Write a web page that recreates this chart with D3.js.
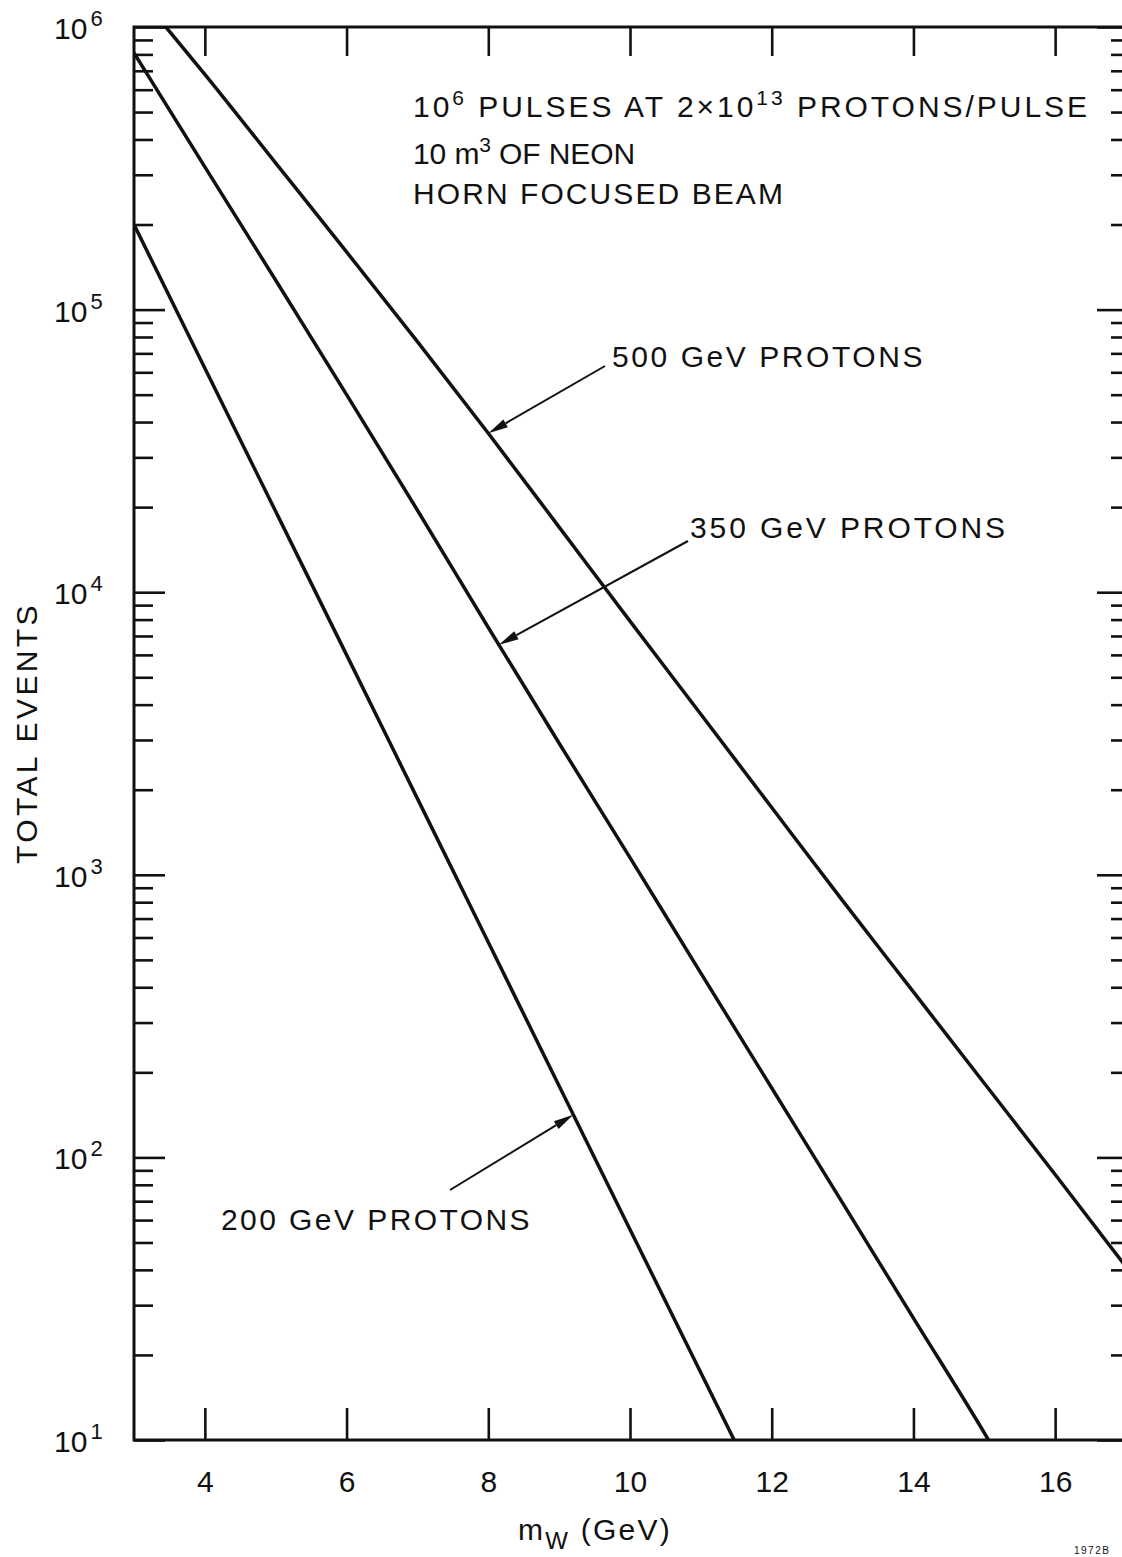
<!DOCTYPE html>
<html>
<head>
<meta charset="utf-8">
<script src="https://cdn.jsdelivr.net/npm/d3@7"></script>
<style>
  html, body { margin: 0; padding: 0; background: #fff; }
  svg { display: block; }
  text { font-family: "Liberation Sans", Arial, sans-serif; fill: #111; }
</style>
</head>
<body>
<svg id="chart" width="1122" height="1557"></svg>
<script>
// ---- data -------------------------------------------------------------
const massTicks = [4, 6, 8, 10, 12, 14, 16];
const decadeValues = [10, 100, 1000, 1e4, 1e5, 1e6];
const decadeExponents = ["1", "2", "3", "4", "5", "6"];
const minorMultiples = [2, 3, 4, 5, 6, 7, 8, 9];

// total W events vs W mass (GeV) for three proton beam energies
const mass500   = [3.45, 4, 5, 6, 7, 8, 9, 10, 11, 12, 13, 14, 15, 16, 17];
const events500 = [1.0e6, 6.8e5, 3.3e5, 1.6e5, 7.7e4, 3.65e4, 1.7e4, 7.9e3, 3.7e3, 1.73e3, 810, 385, 183, 87, 41];

const mass350   = [3, 4, 5, 6, 7, 8, 9, 10, 11, 12, 13, 14, 15, 15.06];
const events350 = [8.1e5, 3.2e5, 1.27e5, 5.0e4, 1.95e4, 7.5e3, 2.92e3, 1.15e3, 449, 176, 69, 27, 10.6, 10];

const mass200   = [3, 4, 5, 6, 7, 8, 9, 10, 11, 11.47];
const events200 = [2.0e5, 6.2e4, 1.93e4, 6.0e3, 1.86e3, 577, 179, 55.6, 17.3, 10];

const seriesNames = ["500 GeV PROTONS", "350 GeV PROTONS", "200 GeV PROTONS"];
const arrowMass = [8, 8.15, 9.2];

// ---- scales -----------------------------------------------------------
const svg = d3.select("#chart");
const plot = { left: 134, right: 1126, top: 27, bottom: 1440 };
const x = d3.scaleLinear().domain([3, 17]).range([plot.left, plot.right]);
const y = d3.scaleLog().domain([10, 1e6]).range([plot.bottom, plot.top]);

const minorValues = [];
decadeValues.slice(0, -1).forEach(d => minorMultiples.forEach(m => minorValues.push(d * m)));

const INK = "#111";

// ---- helpers ----------------------------------------------------------
function styleAxis(g, width) {
  g.select(".domain").remove();
  g.selectAll(".tick line").attr("stroke", INK).attr("stroke-width", width);
}

// spread letters so a line of text spans a given width
function fitWidth(sel, target) {
  const node = sel.node();
  const n = node.getNumberOfChars();
  let ls = 0;
  for (let i = 0; i < 3; i++) {
    sel.attr("letter-spacing", ls);
    const w = node.getBBox().width;
    ls += (target - w) / Math.max(1, n - 1);
  }
  sel.attr("letter-spacing", ls);
}

// ---- ticks ------------------------------------------------------------
svg.append("g").attr("transform", `translate(0,${plot.bottom})`)
  .call(d3.axisBottom(x).tickValues(massTicks).tickSize(-32).tickPadding(31)
        .tickFormat(d3.format("d")))
  .call(g => styleAxis(g, 2.6))
  .call(g => g.selectAll(".tick text").attr("font-size", 30).attr("fill", INK)
        .attr("font-family", '"Liberation Sans", Arial, sans-serif'));

svg.append("g").attr("transform", `translate(0,${plot.top})`)
  .call(d3.axisTop(x).tickValues(massTicks).tickSize(-29).tickFormat(""))
  .call(g => styleAxis(g, 2.6));

svg.append("g").attr("transform", `translate(${plot.left},0)`)
  .call(d3.axisLeft(y).tickValues(decadeValues).tickSize(-31).tickFormat(""))
  .call(g => styleAxis(g, 2.6));
svg.append("g").attr("transform", `translate(${plot.left},0)`)
  .call(d3.axisLeft(y).tickValues(minorValues).tickSize(-19).tickFormat(""))
  .call(g => styleAxis(g, 2.6));

svg.append("g").attr("transform", `translate(${plot.right},0)`)
  .call(d3.axisRight(y).tickValues(decadeValues).tickSize(-29).tickFormat(""))
  .call(g => styleAxis(g, 2.6));
svg.append("g").attr("transform", `translate(${plot.right},0)`)
  .call(d3.axisRight(y).tickValues(minorValues).tickSize(-15).tickFormat(""))
  .call(g => styleAxis(g, 2.6));

// frame
svg.append("rect")
  .attr("x", plot.left).attr("y", plot.top)
  .attr("width", plot.right - plot.left).attr("height", plot.bottom - plot.top)
  .attr("fill", "none").attr("stroke", INK).attr("stroke-width", 3);

// y tick labels: 10 with superscript exponent
decadeValues.forEach((v, i) => {
  const t = svg.append("text")
    .attr("x", 54).attr("y", y(v) + 12)
    .attr("font-size", 30);
  t.append("tspan").text("10");
  t.append("tspan").attr("font-size", 22).attr("dx", 3).attr("dy", -13).text(decadeExponents[i]);
});

// ---- curves -----------------------------------------------------------
svg.append("clipPath").attr("id", "plot-clip")
  .append("rect")
  .attr("x", plot.left).attr("y", plot.top)
  .attr("width", plot.right - plot.left).attr("height", plot.bottom - plot.top);

const line = d3.line()
  .x(d => x(d[0]))
  .y(d => y(d[1]))
  .curve(d3.curveMonotoneX);

const series = [
  { mass: mass500, events: events500 },
  { mass: mass350, events: events350 },
  { mass: mass200, events: events200 }
];

svg.append("g").attr("clip-path", "url(#plot-clip)")
  .selectAll("path")
  .data(series)
  .join("path")
  .attr("d", s => line(d3.zip(s.mass, s.events)))
  .attr("fill", "none")
  .attr("stroke", INK)
  .attr("stroke-width", 3.5)
  .attr("stroke-linejoin", "round");

// value of a series at a given mass (log-linear between points)
function eventsAt(s, m) {
  const i = Math.max(1, d3.bisectLeft(s.mass, m));
  const m0 = s.mass[i - 1], m1 = s.mass[i];
  const l0 = Math.log10(s.events[i - 1]), l1 = Math.log10(s.events[i]);
  return Math.pow(10, l0 + (l1 - l0) * (m - m0) / (m1 - m0));
}

// ---- curve labels and arrows -----------------------------------------
const labelLayout = [
  { x: 612, y: 367, width: 313, tail: [605, 366] },
  { x: 690, y: 538, width: 318, tail: [688, 541] },
  { x: 221, y: 1230, width: 311, tail: [450, 1190] }
];

series.forEach((s, i) => {
  const L = labelLayout[i];
  const t = svg.append("text")
    .attr("x", L.x).attr("y", L.y)
    .attr("font-size", 30)
    .text(seriesNames[i]);
  fitWidth(t, L.width);

  const tip = [x(arrowMass[i]), y(eventsAt(s, arrowMass[i]))];
  const [tx, ty] = L.tail;
  const ang = Math.atan2(tip[1] - ty, tip[0] - tx);
  const headLen = 20, headHalf = 4.5;
  const bx = tip[0] - headLen * Math.cos(ang), by = tip[1] - headLen * Math.sin(ang);
  svg.append("line")
    .attr("x1", tx).attr("y1", ty).attr("x2", bx).attr("y2", by)
    .attr("stroke", INK).attr("stroke-width", 2);
  const nx = -Math.sin(ang) * headHalf, ny = Math.cos(ang) * headHalf;
  svg.append("path")
    .attr("d", `M${tip[0]},${tip[1]}L${bx + nx},${by + ny}L${bx - nx},${by - ny}Z`)
    .attr("fill", INK);
});

// ---- descriptive text block --------------------------------------------
const line1 = svg.append("text").attr("x", 413).attr("y", 117).attr("font-size", 30);
line1.append("tspan").text("10");
line1.append("tspan").attr("font-size", 21).attr("dy", -12).text("6");
line1.append("tspan").attr("dy", 12).text(" PULSES AT 2\u00d710");
line1.append("tspan").attr("font-size", 21).attr("dy", -12).text("13");
line1.append("tspan").attr("dy", 12).text(" PROTONS/PULSE");
fitWidth(line1, 677);

const line2 = svg.append("text").attr("x", 413).attr("y", 164).attr("font-size", 30);
line2.append("tspan").text("10 m");
line2.append("tspan").attr("font-size", 21).attr("dy", -12).text("3");
line2.append("tspan").attr("dy", 12).text(" OF NEON");
fitWidth(line2, 222);

const line3 = svg.append("text").attr("x", 413).attr("y", 204).attr("font-size", 30)
  .text("HORN FOCUSED BEAM");
fitWidth(line3, 372);

// ---- axis titles ------------------------------------------------------
const yTitle = svg.append("text")
  .attr("transform", "translate(37,733) rotate(-90)")
  .attr("text-anchor", "middle")
  .attr("font-size", 30)
  .text("TOTAL EVENTS");
fitWidth(yTitle, 262);

const xTitle = svg.append("text").attr("x", 518).attr("y", 1540).attr("font-size", 30);
xTitle.append("tspan").text("m");
xTitle.append("tspan").attr("font-size", 24).attr("dy", 9).text("W");
xTitle.append("tspan").attr("dy", -9).text(" (GeV)");
fitWidth(xTitle, 154);

// figure number
svg.append("text").attr("x", 1074).attr("y", 1554)
  .attr("font-size", 10).attr("letter-spacing", 1.5).text("1972B");
</script>
</body>
</html>
